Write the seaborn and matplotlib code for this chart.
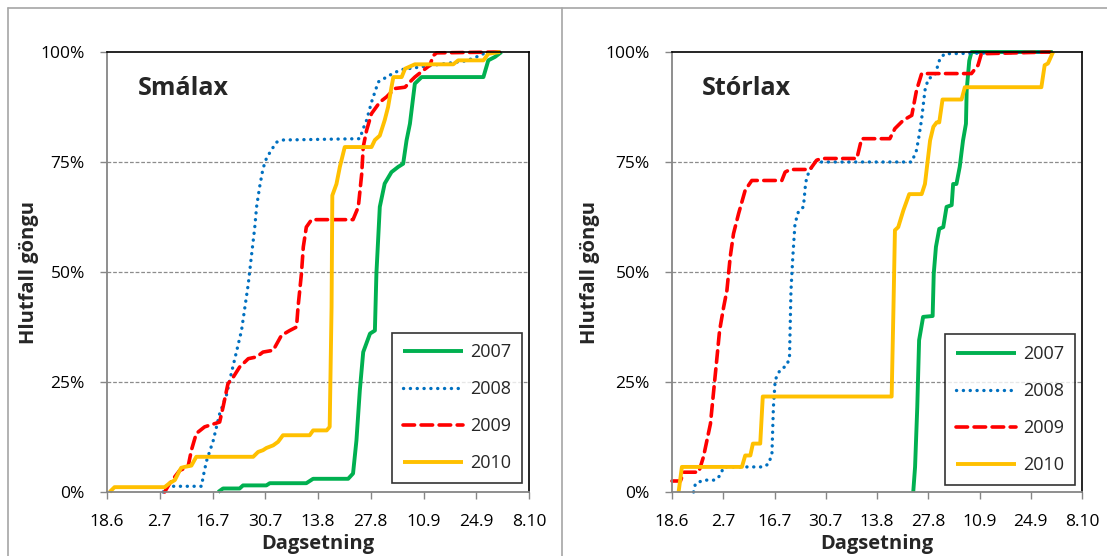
import numpy as np
import pandas as pd
import matplotlib.pyplot as plt
import seaborn as sns
from matplotlib.lines import Line2D

sns.set_style('white')
plt.rcParams['font.family'] = ['Open Sans', 'DejaVu Sans']

# x = days after 18 June, y = cumulative share of the run (%)
date_labels = ['18.6', '2.7', '16.7', '30.7', '13.8', '27.8', '10.9', '24.9', '8.10']
years = ['2007', '2008', '2009', '2010']

# Smálax
sma_2007_x = [29.5, 30.8, 35.2, 36.1, 42.3, 43.2, 52.9, 54.7, 64.0, 65.3, 66.2, 67.1, 68.0, 69.8, 71.1,
              71.5, 72.4, 73.7, 75.5, 77.3, 78.6, 79.5, 80.4, 81.7, 83.5, 99.9, 101.2, 103.0, 104.7]
sma_2007_y = [0, 0.8, 0.8, 1.5, 1.5, 2.0, 2.0, 3.0, 3.0, 4.2, 11.7, 23.1, 31.8, 36.0, 36.7,
              49.6, 64.8, 70.1, 72.7, 73.9, 74.6, 79.9, 83.7, 92.8, 94.3, 94.3, 98.1, 98.9, 100]
sma_2008_x = [14.9, 15.8, 25.1, 25.5, 26.4, 28.2, 29.9, 31.7, 33.0, 34.4, 35.7, 36.6, 37.5, 38.3, 39.2,
              39.7, 40.5, 41.4, 42.3, 43.6, 45.0, 46.7, 67.1, 68.0, 68.9, 70.2, 71.1, 72.0, 74.2, 76.0,
              78.2, 86.6, 95.4, 99.0, 100.8]
sma_2008_y = [0, 1.3, 1.3, 3.4, 7.0, 11.7, 17.8, 22.0, 27.0, 32.0, 36.7, 42.0, 47.3, 53.4, 60.0,
              64.8, 69.3, 73.5, 75.8, 77.7, 79.5, 80.0, 80.3, 82.6, 84.5, 88.6, 90.9, 93.2, 94.3, 95.2,
              96.0, 97.0, 98.0, 99.2, 100]
sma_2009_x = [15.3, 16.6, 19.3, 21.5, 22.4, 23.7, 25.9, 29.9, 30.8, 32.1, 33.5, 35.2, 37.5, 39.7, 41.4,
              44.1, 46.3, 48.5, 50.3, 50.7, 51.6, 52.1, 52.9, 54.3, 65.3, 66.7, 67.6, 68.0, 68.9, 70.2,
              72.4, 74.2, 76.4, 79.1, 80.4, 81.7, 83.9, 85.7, 86.6, 87.5, 104.3]
sma_2009_y = [0, 1.9, 4.9, 5.7, 9.5, 13.3, 14.8, 15.9, 19.3, 24.6, 26.1, 28.4, 30.3, 30.7, 31.8,
              32.2, 35.6, 36.7, 37.5, 42.0, 49.6, 55.7, 60.2, 61.9, 61.9, 64.8, 72.3, 78.4, 82.2, 86.0,
              88.6, 89.8, 91.7, 92.0, 93.2, 94.3, 95.8, 97.0, 99.2, 99.8, 100]
sma_2010_x = [0.7, 2.0, 15.3, 16.6, 18.0, 19.3, 19.7, 20.6, 22.4, 23.7, 38.8, 40.1, 41.4, 42.3, 44.1,
              45.4, 46.7, 53.8, 54.7, 58.3, 59.1, 59.6, 59.8, 60.9, 61.8, 63.1, 70.2, 71.1, 72.4, 73.7,
              74.6, 75.5, 76.0, 78.2, 79.1, 81.7, 91.9, 93.2, 99.9, 101.2, 104.3]
sma_2010_y = [0, 1.1, 1.1, 2.0, 2.7, 4.9, 5.5, 5.7, 6.0, 8.0, 8.0, 9.1, 9.5, 10.0, 10.6,
              11.4, 12.9, 12.9, 14.0, 14.0, 14.8, 42.0, 67.4, 70.0, 73.9, 78.4, 78.4, 80.0, 81.0, 84.5,
              87.5, 92.0, 94.3, 94.3, 96.2, 97.2, 97.2, 98.1, 98.1, 99.6, 100]

# Stórlax
sto_2007_x = [65.9, 66.4, 67.0, 67.5, 68.6, 71.2, 71.5, 72.1, 73.0, 74.1, 75.0, 76.4, 76.8, 77.7, 78.6,
              79.5, 80.3, 80.5, 81.2, 81.8, 104.0]
sto_2007_y = [0, 5.7, 19.3, 34.5, 39.8, 40.0, 49.6, 55.7, 59.8, 60.2, 64.8, 65.2, 70.0, 70.0, 73.9,
              79.9, 83.7, 91.3, 98.0, 100, 100]
sto_2008_x = [5.9, 6.4, 8.6, 11.8, 13.2, 14.1, 25.0, 26.4, 27.3, 27.7, 28.2, 29.5, 31.4, 32.1, 32.3,
              32.5, 33.0, 33.6, 34.5, 35.9, 36.4, 36.8, 38.2, 39.1, 65.5, 66.8, 67.5, 68.2, 69.1, 70.0,
              71.8, 73.2, 74.5, 103.2]
sto_2008_y = [0, 1.9, 2.7, 2.7, 3.8, 5.7, 5.7, 6.4, 8.7, 19.3, 25.5, 27.7, 28.8, 30.7, 38.3,
              45.8, 53.4, 61.0, 63.6, 64.8, 69.3, 71.6, 73.9, 75.0, 75.0, 77.7, 81.0, 84.8, 91.3, 93.9,
              94.7, 98.5, 99.6, 100]
sto_2009_x = [0.0, 2.3, 3.2, 7.3, 8.6, 10.5, 11.4, 12.3, 13.0, 14.1, 15.0, 15.9, 16.8, 18.2, 20.0,
              21.8, 30.0, 30.9, 32.3, 37.7, 39.5, 40.9, 50.5, 51.8, 59.5, 60.9, 63.2, 65.5, 66.8, 68.2,
              81.8, 83.6, 84.5, 103.2]
sto_2009_y = [2.5, 2.5, 4.5, 4.5, 8.0, 15.5, 23.1, 30.7, 36.7, 42.0, 45.8, 53.4, 58.7, 63.3, 68.6,
              70.8, 70.8, 72.7, 73.3, 73.3, 75.4, 75.8, 75.8, 80.3, 80.3, 82.6, 84.5, 85.6, 91.3, 95.1,
              95.1, 97.0, 99.6, 100]
sto_2010_x = [1.8, 2.7, 19.1, 20.0, 21.4, 22.1, 24.1, 24.8, 60.0, 60.5, 60.9, 61.8, 63.2, 64.8, 68.2,
              69.1, 70.5, 71.4, 72.3, 73.0, 73.9, 79.1, 80.0, 100.9, 101.8, 102.7, 104.1]
sto_2010_y = [0, 5.7, 5.7, 8.3, 8.3, 11.0, 11.0, 21.7, 21.7, 42.0, 59.5, 60.2, 64.0, 67.7, 67.7,
              70.0, 79.9, 83.0, 84.0, 84.0, 89.2, 89.2, 92.0, 92.0, 97.0, 97.4, 100]

# line look per year (excel default-ish colours)
styles = {
    '2007': dict(color='#00B050', lw=2.8, linestyle='-'),
    '2008': dict(color='#0070C0', lw=2.4, linestyle=(0, (0.05, 2.0)), dash_capstyle='round'),
    '2009': dict(color='#FF0000', lw=2.6, linestyle=(0, (3.2, 1.8)), dash_capstyle='round'),
    '2010': dict(color='#FFC000', lw=2.8, linestyle='-'),
}


def draw_panel(ax, title, series, legend_anchor):
    '''
    Draws one cumulative run panel. series is a list of (x, y) pairs in year order.
    '''
    handles = []
    for year, (xs, ys) in zip(years, series):
        sns.lineplot(x=xs, y=ys, ax=ax, estimator=None, sort=False,
                     clip_on=False, solid_capstyle='butt', **styles[year])
        handles.append(ax.lines[-1])

    ax.set_xlim(0, 112)
    ax.set_ylim(0, 100)
    ax.set_xticks(np.arange(0, 113, 14))
    ax.set_xticklabels(date_labels)
    ax.set_yticks([0, 25, 50, 75, 100])
    ax.set_yticklabels(['0%', '25%', '50%', '75%', '100%'])
    ax.tick_params(axis='both', labelsize=12.5, colors='#868686', labelcolor='black',
                   length=5, width=1, pad=11, direction='out')
    ax.tick_params(axis='x', bottom=True)
    ax.tick_params(axis='y', left=True)

    # dashed horizontal gridlines
    for lvl in [25, 50, 75]:
        ax.axhline(lvl, color='#8c8c8c', lw=0.9, ls=(0, (3, 1.5)), zorder=0)

    for side in ['left', 'bottom']:
        ax.spines[side].set_color('#868686')
        ax.spines[side].set_linewidth(1.3)
    for side in ['top', 'right']:
        ax.spines[side].set_color('black')
        ax.spines[side].set_linewidth(1.2)

    ax.set_xlabel('Dagsetning', fontsize=14.5, fontweight='bold', labelpad=3)
    ax.set_ylabel('Hlutfall göngu', fontsize=14.5, fontweight='bold')
    ax.text(0.072, 0.918, title, transform=ax.transAxes, fontsize=18, fontweight='bold',
            va='center', ha='left')

    leg = ax.legend(handles=handles, labels=years, loc='lower right',
                    bbox_to_anchor=legend_anchor, fontsize=13,
                    frameon=True, fancybox=False, edgecolor='black', handlelength=3.3,
                    labelspacing=1.05, borderpad=0.6, handletextpad=0.4, borderaxespad=0)
    leg.get_frame().set_linewidth(1.2)


fig = plt.figure(figsize=(11.07, 5.56), dpi=100)
ax1 = fig.add_axes([107 / 1107, 64 / 556, 422 / 1107, 440 / 556])
ax2 = fig.add_axes([672 / 1107, 64 / 556, 410 / 1107, 440 / 556])

draw_panel(ax1, 'Smálax',
           [(sma_2007_x, sma_2007_y), (sma_2008_x, sma_2008_y),
            (sma_2009_x, sma_2009_y), (sma_2010_x, sma_2010_y)], (0.983, 0.02))
draw_panel(ax2, 'Stórlax',
           [(sto_2007_x, sto_2007_y), (sto_2008_x, sto_2008_y),
            (sto_2009_x, sto_2009_y), (sto_2010_x, sto_2010_y)], (0.983, 0.016))
ax1.yaxis.set_label_coords(-0.16, 0.5)
ax2.yaxis.set_label_coords(-0.175, 0.5)

# chart frames like the excel chart objects
frame = dict(color='#a6a6a6', lw=1.2, transform=fig.transFigure)
fig.add_artist(Line2D([8 / 1107, 1], [548 / 556, 548 / 556], **frame))
fig.add_artist(Line2D([8 / 1107, 8 / 1107], [0, 548 / 556], **frame))
fig.add_artist(Line2D([562 / 1107, 562 / 1107], [0, 548 / 556], **frame))

fig.savefig('out.png', dpi=100)
